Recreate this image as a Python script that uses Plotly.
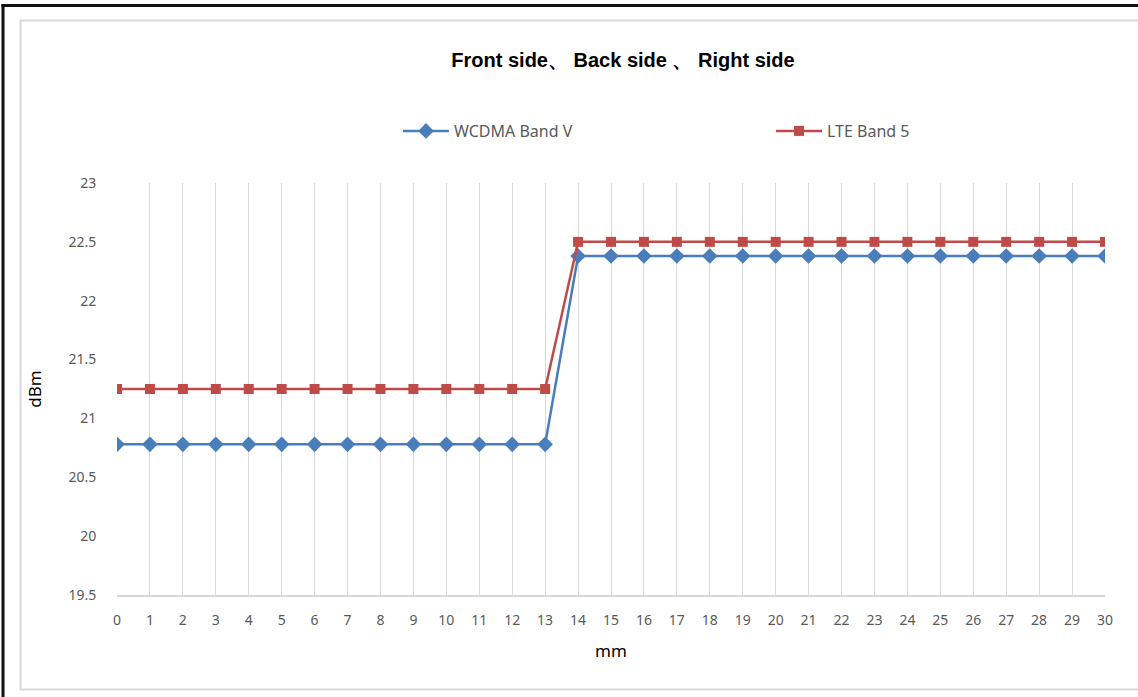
import plotly.graph_objects as go

# distance in mm
distance_mm = list(range(0, 31))

# measured power (dBm)
wcdma_band_v = [20.78] * 14 + [22.38] * 17
lte_band_5 = [21.25] * 14 + [22.5] * 17

y_ticks = [19.5, 20, 20.5, 21, 21.5, 22, 22.5, 23]
y_tick_text = ["19.5", "20", "20.5", "21", "21.5", "22", "22.5", "23"]

W, H = 1138, 697
L, R, T, B = 117, 1105, 183, 595

def px_x(px):
    return (px - L) / (R - L)

def px_y(py):
    return (B - py) / (B - T)

fig = go.Figure()
fig.add_trace(go.Scatter(
    x=distance_mm, y=wcdma_band_v, name="WCDMA Band V", mode="lines+markers",
    line=dict(color="#4a7ebb", width=2.5),
    marker=dict(symbol="diamond", size=12, color="#4a7ebb"),
    legend="legend",
))
fig.add_trace(go.Scatter(
    x=distance_mm, y=lte_band_5, name="LTE Band 5", mode="lines+markers",
    line=dict(color="#be4b48", width=2.5),
    marker=dict(symbol="square", size=10, color="#be4b48"),
    legend="legend2",
))

grey = "#d9d9d9"
txt = "#595959"
font_family = "Noto Sans, DejaVu Sans, sans-serif"

legend_common = dict(
    orientation="h", yanchor="middle", xanchor="left",
    font=dict(family=font_family, size=16, color=txt),
    bgcolor="rgba(0,0,0,0)", itemwidth=46,
)

fig.update_layout(
    width=W, height=H,
    margin=dict(l=L, r=W - R, t=T, b=H - B),
    paper_bgcolor="white", plot_bgcolor="white",
    font=dict(family=font_family, color=txt, size=13),
    title=dict(
        text="<b>Front side、 Back side 、 Right side</b>",
        xref="paper", x=px_x(623), xanchor="center", y=1 - 60 / H, yanchor="middle",
        font=dict(family="Liberation Sans, Arial, sans-serif", size=20, color="#000000"),
    ),
    legend=dict(x=px_x(398), y=px_y(131), **legend_common),
    legend2=dict(x=px_x(771), y=px_y(131), **legend_common),
    xaxis=dict(
        range=[0, 30], tickmode="array", tickvals=distance_mm,
        ticktext=[str(v) for v in distance_mm],
        showgrid=True, gridcolor=grey, gridwidth=1.3,
        showline=True, linecolor=grey, linewidth=1.5,
        ticks="outside", ticklen=11, tickcolor="rgba(0,0,0,0)",
        tickfont=dict(size=14, color=txt), zeroline=False,
        title=dict(text="mm", font=dict(size=17, color="#000000"), standoff=18),
    ),
    yaxis=dict(
        range=[19.5, 23], tickmode="array", tickvals=y_ticks, ticktext=y_tick_text,
        showgrid=False, showline=False, zeroline=False,
        ticks="outside", ticklen=17, tickcolor="rgba(0,0,0,0)",
        tickfont=dict(size=14, color=txt),
        title=dict(text="dBm", font=dict(size=17, color="#000000"), standoff=22),
    ),
    showlegend=True,
)

# chart frame (light grey) and outer dark border
fig.add_shape(type="rect", xref="paper", yref="paper",
              x0=px_x(20.5), x1=px_x(1145), y0=px_y(20.5), y1=px_y(689.5),
              line=dict(color=grey, width=2), layer="below")
fig.add_shape(type="line", xref="paper", yref="paper",
              x0=px_x(1.5), x1=px_x(1145), y0=px_y(5.5), y1=px_y(5.5),
              line=dict(color="#111111", width=3))
fig.add_shape(type="line", xref="paper", yref="paper",
              x0=px_x(3), x1=px_x(3), y0=px_y(4), y1=px_y(700),
              line=dict(color="#111111", width=3))

fig.write_html("out.html")
